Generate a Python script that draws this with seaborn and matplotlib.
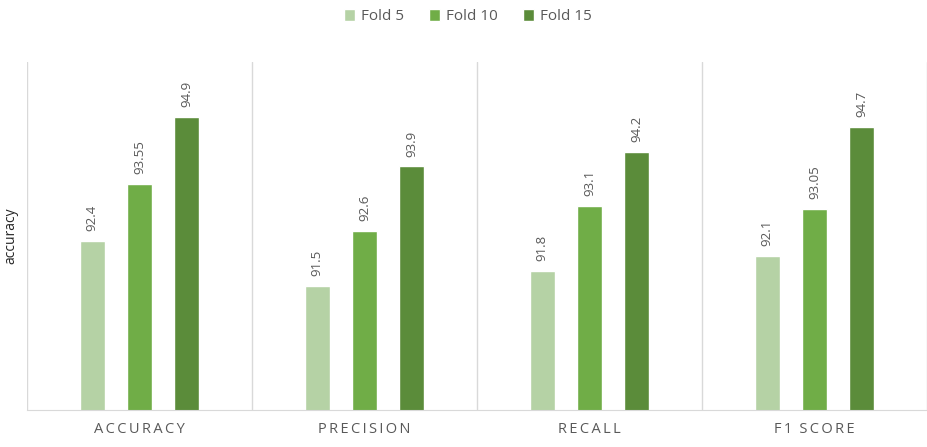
import pandas as pd
import numpy as np
import matplotlib.pyplot as plt
import seaborn as sns

sns.set_style("white")
plt.rcParams['font.family'] = ['Open Sans', 'DejaVu Sans']

# Данные
metrics = ['ACCURACY', 'PRECISION', 'RECALL', 'F1 SCORE']
folds = ['Fold 5', 'Fold 10', 'Fold 15']
fold5 = [92.4, 91.5, 91.8, 92.1]
fold10 = [93.55, 92.6, 93.1, 93.05]
fold15 = [94.9, 93.9, 94.2, 94.7]
colors = ['#b5d2a5', '#70ad47', '#5b8c3a']

df = pd.DataFrame({
    'metric': metrics * 3,
    'fold': [f for f in folds for _ in metrics],
    'value': fold5 + fold10 + fold15,
})

fig = plt.figure(figsize=(9.27, 4.47), dpi=100)
ax = fig.add_axes([0.029, 0.083, 0.971, 0.778])

sns.barplot(data=df, x='metric', y='value', hue='fold', palette=colors,
            width=0.63, gap=0.47, saturation=1, ax=ax, legend=True)

ax.set_ylim(89, 96)
ax.set_xlim(-0.5, 3.5)
ax.set_yticks([])
ax.set_ylabel('accuracy', fontsize=10, color='#262626', labelpad=6)
ax.set_xlabel('')

# Подписи категорий с разрядкой
spaced = ['\u2009'.join(list(m)).replace('\u2009 \u2009', '\u2009\u2009\u2009') for m in metrics]
ax.set_xticks(range(len(metrics)))
ax.set_xticklabels(spaced, fontsize=10.5, color='#595959')
ax.tick_params(axis='x', length=0, pad=9)

# Вертикальные разделители
for xb in np.arange(-0.5, 3.6, 1.0):
    ax.axvline(xb, color='#d9d9d9', lw=1, zorder=0)

for s in ['top', 'right', 'left']:
    ax.spines[s].set_visible(False)
ax.spines['bottom'].set_color('#d9d9d9')

# Подписи значений
for cont in ax.containers:
    labels = [f'{v:g}' for v in cont.datavalues]
    ax.bar_label(cont, labels=labels, rotation=90, padding=7,
                 fontsize=9.5, color='#595959')

ax.legend(loc='center', bbox_to_anchor=(0.49, 1.13), ncol=3,
          frameon=False, fontsize=11, handlelength=0.75, handleheight=0.75,
          columnspacing=1.6, handletextpad=0.4, labelcolor='#595959')

plt.savefig('out.png', dpi=100)
